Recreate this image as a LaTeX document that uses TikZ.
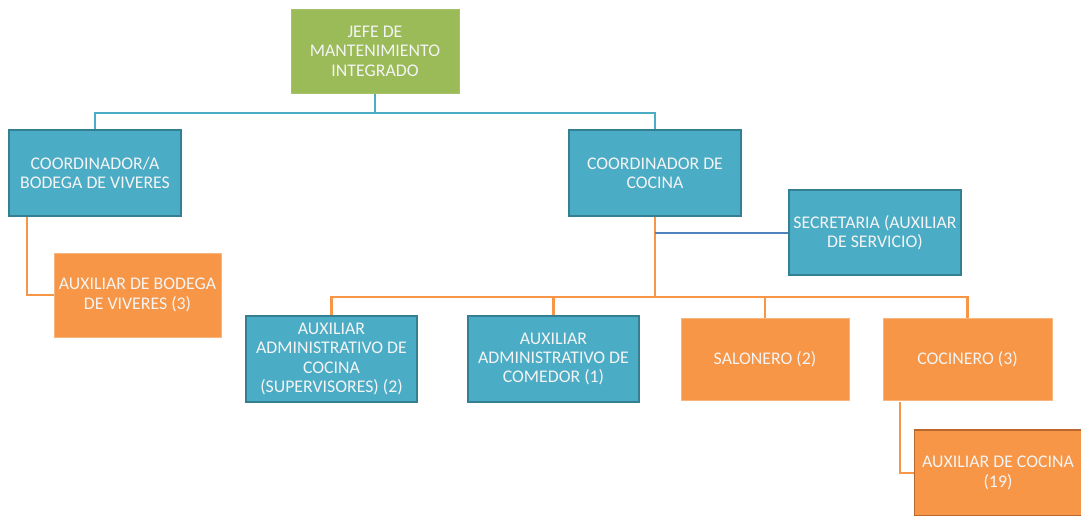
\documentclass[tikz,border=0pt]{standalone}
\usepackage{fontspec}
\setmainfont{Carlito}
\definecolor{boxgreen}{HTML}{9BBB59}
\definecolor{boxblue}{HTML}{4BACC6}
\definecolor{blueedge}{HTML}{357F93}
\definecolor{boxorange}{HTML}{F79646}
\definecolor{orangeedge}{HTML}{B8682E}
\definecolor{linkblue}{HTML}{4BACC6}
\definecolor{linkdark}{HTML}{4F81BD}
\definecolor{linkorange}{HTML}{F79646}
\definecolor{labeltext}{HTML}{F4F4F4}
\begin{document}
\begin{tikzpicture}[x=1pt,y=-1pt,
  unit/.style={rectangle, align=center, text=labeltext, inner sep=1pt,
    font=\fontsize{17.8}{19.4}\selectfont},
  greenbox/.style={unit, fill=boxgreen, draw=boxgreen!90!white, line width=1pt},
  bluebox/.style={unit, fill=boxblue, draw=blueedge, line width=1.6pt},
  orangebox/.style={unit, fill=boxorange, draw=boxorange!70!white, line width=1pt},
  blink/.style={draw=linkblue, line width=2.2pt},
  dlink/.style={draw=linkdark, line width=2pt},
  olink/.style={draw=linkorange, line width=2.2pt}]
\useasboundingbox (0,0) rectangle (1081,515);

% top level
\node[greenbox, minimum width=168pt, minimum height=84pt] (jefe) at (375,51)
  {JEFE DE\\MANTENIMIENTO\\INTEGRADO};

% coordinators
\node[bluebox, minimum width=172pt, minimum height=86pt] (coordA) at (95,173)
  {COORDINADOR/A\\BODEGA DE VIVERES};
\node[bluebox, minimum width=172pt, minimum height=86pt] (coordC) at (655,173)
  {COORDINADOR DE\\COCINA};
\node[bluebox, minimum width=172pt, minimum height=85pt] (secr) at (875,232.5)
  {SECRETARIA (AUXILIAR\\DE SERVICIO)};

% staff under the warehouse coordinator
\node[orangebox, minimum width=167pt, minimum height=84pt] (auxbod) at (137.5,295)
  {AUXILIAR DE BODEGA\\DE VIVERES (3)};

% staff under the kitchen coordinator
\node[bluebox, minimum width=171pt, minimum height=86pt] (aux1) at (331.5,359)
  {AUXILIAR\\ADMINISTRATIVO DE\\COCINA\\(SUPERVISORES) (2)};
\node[bluebox, minimum width=171pt, minimum height=86pt] (aux2) at (553.5,359)
  {AUXILIAR\\ADMINISTRATIVO DE\\COMEDOR (1)};
\node[orangebox, minimum width=168pt, minimum height=82pt] (salon) at (765,359)
  {SALONERO (2)};
\node[orangebox, minimum width=169pt, minimum height=82pt] (cocin) at (967.5,359)
  {COCINERO (3)};
\node[orangebox, draw=orangeedge, line width=1.6pt, minimum width=167pt, minimum height=86pt]
  (auxcoc) at (998,473) {AUXILIAR DE COCINA\\(19)};

% connectors
\coordinate (topbus) at (375,113);
\draw[blink] (jefe.south) -- (topbus);
\draw[blink] (topbus) -| (coordA.north);
\draw[blink] (topbus) -| (coordC.north);

\coordinate (bodtap) at (27,217);
\draw[olink] (bodtap) |- (auxbod.west);

\coordinate (hub) at (655,297);
\draw[olink] (coordC.south) -- (hub);
\draw[olink] (hub) -| (aux1.north);
\draw[olink] (hub) -| (aux2.north);
\draw[olink] (hub) -| (salon.north);
\draw[olink] (hub) -| (cocin.north);
\draw[dlink] (coordC.south |- secr.west) -- (secr.west);

\coordinate (coctap) at (900,402);
\draw[olink] (coctap) |- (auxcoc.west);
\end{tikzpicture}
\end{document}
